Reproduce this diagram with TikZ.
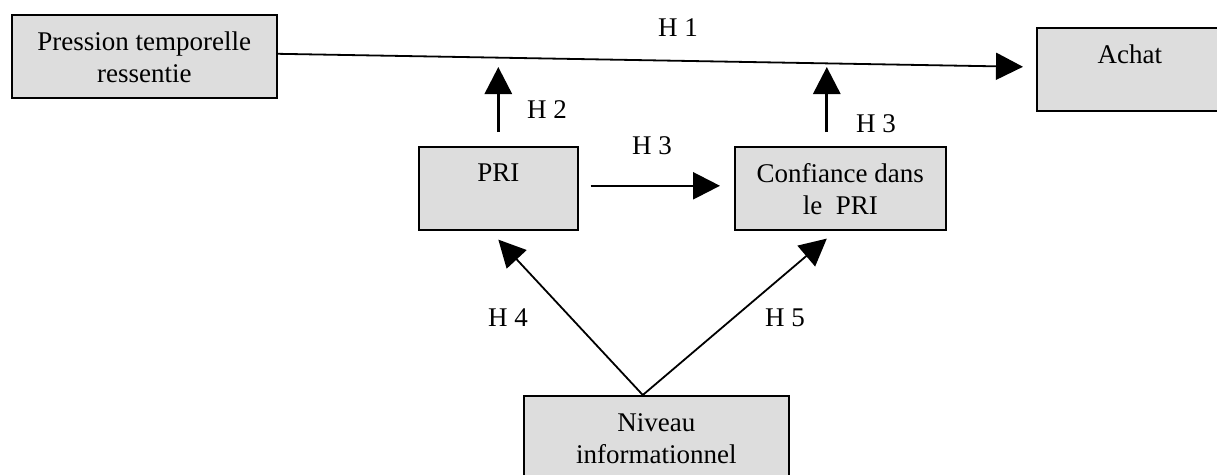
\documentclass[tikz,border=0pt]{standalone}
\usepackage{fontspec}
\setmainfont{Liberation Serif}
\usetikzlibrary{arrows.meta}
\definecolor{boxfill}{RGB}{221,221,221}
\begin{document}
\begin{tikzpicture}[x=1pt,y=-1pt,
  box/.style={draw=black, line width=1.6pt, fill=boxfill, minimum height=83pt, inner sep=0pt, anchor=north west},
  boxtext/.style={anchor=north, inner sep=0pt, align=center, font=\fontsize{27}{32}\selectfont},
  lab/.style={anchor=base, inner sep=0pt, font=\fontsize{27}{32}\selectfont},
  link/.style={line width=1.8pt, -{Triangle[length=27pt,width=27pt]}},
  boldlink/.style={line width=3pt, -{Triangle[length=27pt,width=27pt]}},
  midlink/.style={line width=2.4pt, -{Triangle[length=27pt,width=27pt]}}]
\useasboundingbox (0,0) rectangle (1217,474);
\clip (0,0) rectangle (1217,474);
% boxes
\node[box, minimum width=265pt] (P) at (11,14) {};
\node[box, minimum width=186pt] (A) at (1036,27) {};
\node[box, minimum width=159pt] (R) at (418,146) {};
\node[box, minimum width=211pt] (C) at (734,146) {};
\node[box, minimum width=265pt] (N) at (523,395) {};
% box texts
\node[boxtext] (Pt) at ([yshift=-17.6pt]P.north) {Pression temporelle\\ressentie};
\node[boxtext] (At) at ([yshift=-17.6pt]A.north) {Achat};
\node[boxtext] (Rt) at ([yshift=-18.1pt]R.north) {PRI};
\node[boxtext] (Ct) at ([yshift=-17.6pt]C.north) {Confiance dans\\le\ \ PRI};
\node[boxtext] (Nt) at ([yshift=-18.1pt]N.north) {Niveau\\informationnel};
% connectors
\draw[link] ([yshift=2.5pt]P.east) -- ([xshift=-13pt,yshift=2.5pt]A.west);
\draw[boldlink] ([yshift=14pt]R.north) -- ([yshift=79pt]R.north);
\draw[boldlink] ([xshift=-13.5pt,yshift=14pt]C.north) -- ([xshift=-13.5pt,yshift=79pt]C.north);
\draw[midlink] ([xshift=12pt,yshift=2.5pt]R.east) -- ([xshift=-14pt,yshift=2.5pt]C.west);
\draw[link] ([xshift=-13.5pt]N.north) -- ([yshift=-9pt]R.south);
\draw[link] ([xshift=-13.5pt]N.north) -- ([xshift=-13.5pt,yshift=-8pt]C.south);
% labels
\node[lab] (h1) at (678,36) {H 1};
\node[lab] (h2) at (547,118) {H 2};
\node[lab] (h3a) at (652,154) {H 3};
\node[lab] (h3b) at (876,132) {H 3};
\node[lab] (h4) at (508,326) {H 4};
\node[lab] (h5) at (785,326) {H 5};
\end{tikzpicture}
\end{document}
